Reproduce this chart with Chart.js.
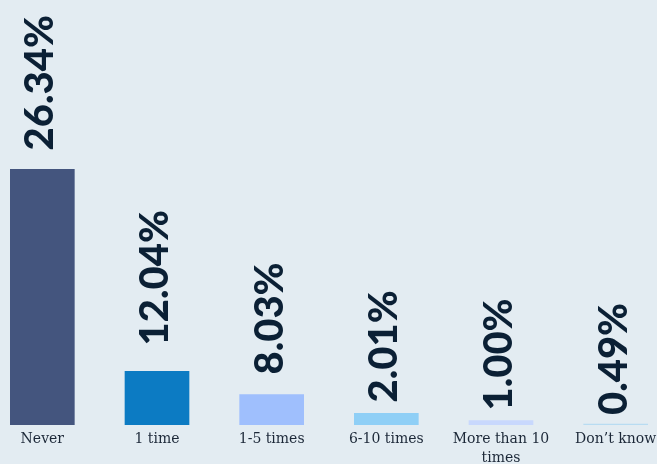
<!DOCTYPE html>
<html>
<head>
<meta charset="utf-8">
<script src="https://cdn.jsdelivr.net/npm/chart.js@4.4.0/dist/chart.umd.min.js"></script>
<style>
  html, body { margin: 0; padding: 0; background: #e3ecf2; overflow: hidden; }
  #wrap { position: absolute; left: -15px; top: 0; width: 688px; height: 464px; }
</style>
</head>
<body>
<div id="wrap"><canvas id="chart"></canvas></div>
<script>
// categories and values
const categories = ['Never', '1 time', '1-5 times', '6-10 times', ['More than 10', 'times'], 'Don\u2019t know'];
const valueLabels = ['26.34%', '12.04%', '8.03%', '2.01%', '1.00%', '0.49%'];
// bar heights as drawn (same units as the 26.34 bar)
const barHeights = [26.34, 5.52, 3.14, 1.19, 0.46, 0.1];
const barColors = ['#44557e', '#0c7bc3', '#9fbffd', '#8fcff6', '#c8d8fd', '#b8dcf2'];
const labelGaps = [19, 26, 20, 11, 10, 9];

const valueLabelPlugin = {
  id: 'valueLabels',
  afterDatasetsDraw(chart) {
    const ctx = chart.ctx;
    const bars = chart.getDatasetMeta(0).data;
    ctx.save();
    ctx.fillStyle = '#0b2035';
    ctx.font = '900 40px Lato';
    ctx.textAlign = 'left';
    ctx.textBaseline = 'middle';
    bars.forEach((bar, i) => {
      ctx.save();
      ctx.translate(bar.x - 2, bar.y - labelGaps[i]);
      ctx.rotate(-Math.PI / 2);
      ctx.fillText(valueLabels[i], 0, 0);
      ctx.restore();
    });
    ctx.restore();
  }
};

new Chart(document.getElementById('chart'), {
  type: 'bar',
  data: {
    labels: categories,
    datasets: [{
      data: barHeights,
      backgroundColor: barColors,
      borderWidth: 0,
      barThickness: 64
    }]
  },
  options: {
    responsive: true,
    maintainAspectRatio: false,
    animation: false,
    layout: { padding: 0 },
    plugins: { legend: { display: false }, tooltip: { enabled: false } },
    scales: {
      x: {
        grid: { display: false, drawTicks: false },
        border: { display: false },
        ticks: {
          padding: 5,
          color: '#1c2838',
          maxRotation: 0,
          autoSkip: false,
          font: { family: 'DejaVu Serif', size: 14, lineHeight: 1.35 }
        },
        afterFit(scale) { scale.height = 39; }
      },
      y: { display: false, min: 0, max: 43.8 }
    }
  },
  plugins: [valueLabelPlugin]
});
</script>
</body>
</html>
